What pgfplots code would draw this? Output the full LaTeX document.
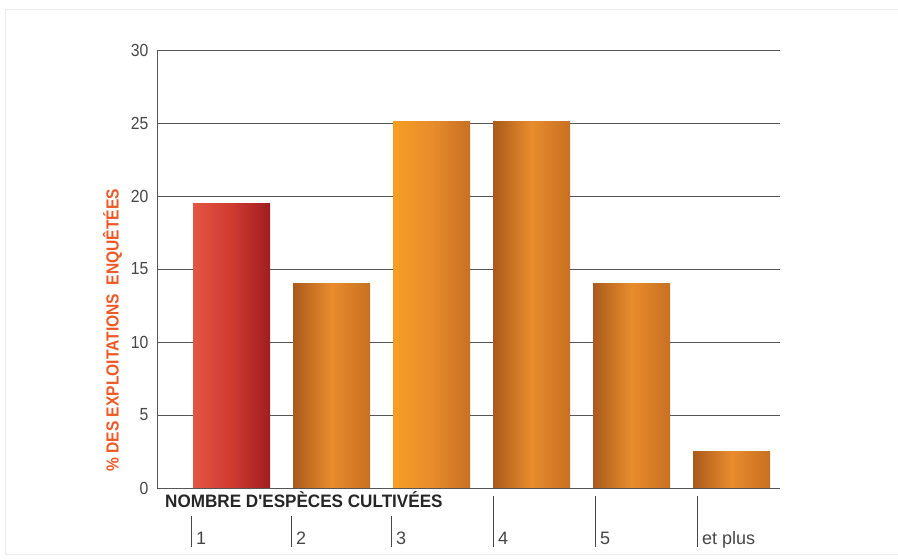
\documentclass[border=0pt]{standalone}
\usepackage{fontspec}
\setmainfont{Liberation Sans}[FakeStretch=0.9]
\newfontfamily\cond{Liberation Sans}[FakeStretch=0.95]
\newfontfamily\ycond{Liberation Sans}[FakeStretch=0.89]
\newfontfamily\plain{Liberation Sans}
\usepackage{pgfplots}
\pgfplotsset{compat=1.18}

\definecolor{gridgray}{RGB}{85,85,85}
\definecolor{ticktext}{RGB}{70,70,70}
\definecolor{labelorange}{RGB}{238,88,38}
\definecolor{redL}{RGB}{226,86,66}
\definecolor{redM}{RGB}{208,58,50}
\definecolor{redR}{RGB}{160,30,30}
\definecolor{orL}{RGB}{170,90,28}
\definecolor{orM}{RGB}{232,140,44}
\definecolor{orR}{RGB}{200,112,34}
\definecolor{orL3}{RGB}{246,158,36}

% tick mark drawn as part of the label: rule, then the text
\newcommand\tk[2]{\rule[-3bp]{0.8bp}{#1}\hspace{4bp}#2}

\begin{document}
\begin{tikzpicture}
\useasboundingbox (0,0) rectangle (898bp,560bp);
\draw[black!8, line width=1bp] (5bp,5bp) rectangle (910bp,550bp);
\begin{axis}[
    at={(157bp,72bp)}, anchor=south west,
    scale only axis,
    width=623bp, height=438bp,
    xmin=0.255, xmax=6.485,
    ymin=0, ymax=30,
    ytick={0,5,...,30},
    xtick={0.595,1.595,2.595,3.615,4.635,5.655},
    xticklabels={\tk{31bp}{1},\tk{31bp}{2},\tk{31bp}{3},\tk{51bp}{4},\tk{51bp}{5},\tk{51bp}{et plus}},
    major tick length=0pt,
    axis x line*=bottom, axis y line*=left,
    axis line style={gridgray, line width=1bp},
    ymajorgrids,
    grid style={gridgray, line width=0.8bp},
    /pgf/number format/assume math mode=true,
    yticklabel style={font=\fontsize{17.5bp}{21bp}\selectfont, text=ticktext, xshift=-5bp},
    xticklabel style={font=\plain\fontsize{18bp}{21bp}\selectfont, text=ticktext, anchor=base west, inner sep=0pt, yshift=-56bp},
    xlabel={\textbf{NOMBRE D'ESPÈCES CULTIVÉES}},
    xlabel style={font=\cond\fontsize{18bp}{22bp}\selectfont, text=black!85, at={(rel axis cs:0,0)}, anchor=base west, inner sep=0pt, xshift=8bp, yshift=-19bp},
    ylabel={\textbf{\% DES EXPLOITATIONS\ \ ENQUÊTÉES}},
    ylabel style={font=\ycond\fontsize{17.5bp}{20bp}\selectfont, text=labelorange, at={(ticklabel cs:0.36)}, anchor=south, yshift=2bp},
    ybar, bar width=0.77, bar shift=0pt,
    clip=false,
]
\addplot[draw=none, left color=redL, right color=redR, middle color=redM] coordinates {(1,19.5)};
\addplot[draw=none, left color=orL, right color=orR, middle color=orM] coordinates {(2,14)};
\addplot[draw=none, left color=orL3, right color=orR, middle color=orM] coordinates {(3,25.1)};
\addplot[draw=none, left color=orL, right color=orR, middle color=orM] coordinates {(4,25.1)};
\addplot[draw=none, left color=orL, right color=orR, middle color=orM] coordinates {(5,14)};
\addplot[draw=none, left color=orL, right color=orR, middle color=orM] coordinates {(6,2.5)};
\end{axis}
\end{tikzpicture}
\end{document}
